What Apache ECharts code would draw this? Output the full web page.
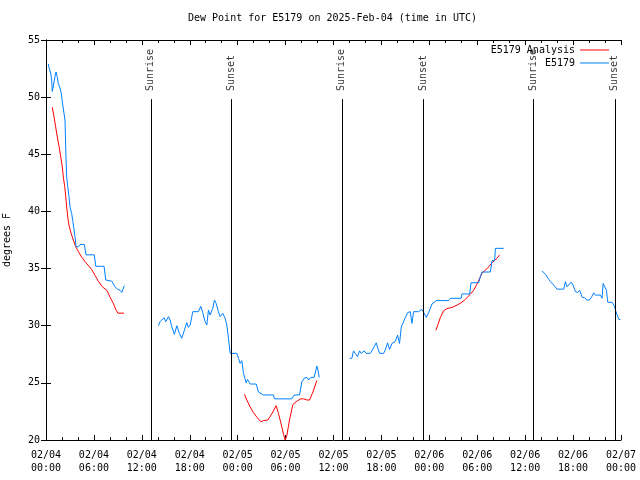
<!DOCTYPE html>
<html>
<head>
<meta charset="utf-8">
<script src="https://cdn.jsdelivr.net/npm/echarts@6/dist/echarts.min.js"></script>
<style>html,body{margin:0;padding:0;background:#fff}#c{width:640px;height:480px}</style>
</head>
<body>
<div id="c"></div>
<script>
// x values are hours since 2025-02-04 00:00 UTC
var xTickLabels = ['02/04\n00:00','02/04\n06:00','02/04\n12:00','02/04\n18:00','02/05\n00:00','02/05\n06:00','02/05\n12:00','02/05\n18:00','02/06\n00:00','02/06\n06:00','02/06\n12:00','02/06\n18:00','02/07\n00:00'];
var sunriseHours = [13.12, 37.05, 61.07];
var sunsetHours = [23.23, 47.28, 71.22];

var obsSeg1 = [[0.29,52.9],[0.41,52.5],[0.59,52.1],[0.71,51.5],[0.79,50.5],[1.0,50.6],[1.13,51.8],[1.25,52.2],[1.33,52.1],[1.4,51.8],[1.54,51.2],[1.75,50.8],[1.92,50.3],[2.04,49.6],[2.26,49.5],[2.38,48.0],[2.5,44.8],[2.59,43.0],[2.72,42.2],[2.88,41.3],[3.0,40.4],[3.22,39.8],[3.35,39.2],[3.51,38.4],[3.63,37.8],[3.76,36.9],[4.05,36.9],[4.26,37.1],[4.8,37.1],[5.01,36.2],[6.05,36.2],[6.23,35.2],[7.27,35.2],[7.48,34.0],[8.23,33.9],[8.65,33.4],[8.93,33.2],[9.27,33.1],[9.49,32.9],[9.69,33.3],[9.81,33.5]];
var obsSeg2 = [[14.07,30.0],[14.29,30.35],[14.5,30.2],[14.79,30.7],[15.0,30.35],[15.33,30.8],[15.54,30.5],[15.75,29.9],[16.08,29.25],[16.38,30.0],[16.7,29.33],[17.0,28.9],[17.2,29.04],[17.63,30.27],[17.83,29.86],[18.05,30.06],[18.38,31.23],[19.09,31.23],[19.38,31.7],[19.63,31.14],[19.92,30.35],[20.14,30.06],[20.34,31.37],[20.55,30.94],[20.88,31.52],[21.09,32.25],[21.3,31.96],[21.59,31.23],[21.8,30.8],[22.14,31.08],[22.43,30.65],[22.64,30.06],[22.85,28.9],[23.06,27.58],[23.9,27.58],[24.1,27.15],[24.31,26.7],[24.52,26.94],[24.73,25.83],[25.06,25.0],[25.23,25.3],[25.56,24.9],[26.32,24.9],[26.6,24.2],[27.23,23.94],[28.48,23.94],[28.61,23.6],[30.78,23.6],[31.08,23.94],[31.74,23.94],[32.04,25.1],[32.33,25.4],[32.67,25.48],[32.87,25.25],[33.17,25.48],[33.58,25.48],[33.92,26.47],[34.05,26.12],[34.21,25.48]];
var obsSeg3 = [[38.01,27.15],[38.3,27.15],[38.51,27.8],[38.72,27.58],[39.01,27.29],[39.26,27.8],[39.47,27.58],[39.85,27.8],[40.06,27.58],[40.6,27.58],[40.81,27.8],[41.02,27.87],[41.35,28.5],[41.56,28.0],[41.77,27.58],[42.27,27.58],[42.48,27.87],[42.77,28.5],[43.02,27.93],[43.32,28.45],[43.73,28.6],[44.02,29.18],[44.27,28.45],[44.49,29.9],[44.7,30.06],[44.99,30.7],[45.28,31.14],[45.61,31.23],[45.82,30.2],[46.03,31.23],[46.65,31.23],[47.08,31.43],[47.28,31.37],[47.62,30.73],[47.91,31.14],[48.33,31.9],[48.87,32.2],[50.41,32.2],[50.63,32.4],[51.97,32.4],[52.09,32.78],[53.05,32.78],[53.22,33.76],[53.47,33.85],[54.18,33.76],[54.39,34.3],[54.6,34.7],[55.64,34.7],[55.85,35.7],[56.18,35.7],[56.27,36.77],[57.31,36.77]];
var obsSeg4 = [[62.12,34.8],[62.32,34.8],[62.53,34.5],[62.74,34.3],[62.95,34.06],[63.16,33.85],[63.37,33.7],[63.57,33.56],[63.78,33.47],[63.99,33.2],[64.83,33.2],[65.04,33.85],[65.25,33.4],[65.45,33.56],[65.75,33.8],[66.0,33.56],[66.29,32.98],[66.58,32.9],[66.83,33.1],[67.13,32.5],[67.42,32.45],[67.76,32.25],[68.05,32.25],[68.3,32.5],[68.59,32.87],[68.8,32.68],[69.42,32.68],[69.63,32.4],[69.76,33.7],[69.92,33.6],[70.18,33.1],[70.34,32.05],[70.89,32.05],[71.18,31.7],[71.3,31.37],[71.52,30.94],[71.72,30.55],[71.93,30.55]];

var anaSeg1 = [[0.79,49.1],[1.0,48.3],[1.21,47.4],[1.42,46.5],[1.63,45.7],[1.84,44.8],[2.04,43.9],[2.17,43.0],[2.34,42.2],[2.47,41.3],[2.59,40.4],[2.72,39.5],[2.88,38.8],[3.13,38.1],[3.42,37.5],[3.72,36.9],[4.05,36.5],[4.47,36.0],[4.89,35.6],[5.39,35.2],[5.73,34.9],[6.14,34.4],[6.55,33.9],[7.06,33.4],[7.61,33.1],[8.02,32.5],[8.4,32.0],[8.75,31.4],[9.0,31.1],[9.77,31.1]];
var anaSeg2 = [[24.85,24.0],[25.15,23.5],[25.56,22.9],[25.98,22.4],[26.4,22.0],[26.9,21.6],[27.23,21.7],[27.78,21.75],[28.28,22.3],[28.82,23.0],[29.11,22.3],[29.41,21.5],[29.74,20.5],[29.95,20.0],[30.16,20.4],[30.49,21.75],[30.91,23.1],[31.41,23.4],[31.91,23.6],[32.25,23.6],[32.67,23.5],[33.0,23.5],[33.42,24.2],[33.92,25.2]];
var anaSeg3 = [[48.83,29.6],[49.08,30.1],[49.37,30.7],[49.79,31.3],[50.21,31.5],[50.84,31.6],[51.46,31.8],[51.97,32.0],[52.51,32.3],[53.05,32.7],[53.55,33.1],[53.97,33.65],[54.3,34.15],[54.6,34.6],[55.23,35.0],[55.85,35.5],[56.48,35.9],[56.8,36.2]];

function joinSegs(segs) {
  var out = [];
  segs.forEach(function (s, i) {
    if (i > 0) out.push([s[0][0] - 0.01, null]);
    s.forEach(function (p) { out.push(p); });
  });
  return out;
}

var FONT = 'DejaVu Sans Mono';
var chart = echarts.init(document.getElementById('c'), null, {renderer: 'canvas'});

var sunLines = [];
sunriseHours.concat(sunsetHours).forEach(function (h) {
  sunLines.push([{coord: [h, 20]}, {coord: [h, 49.83]}]);
});
var sunLabels = [];
sunriseHours.forEach(function (h) { sunLabels.push({value: [h, 50.45], name: 'Sunrise'}); });
sunsetHours.forEach(function (h) { sunLabels.push({value: [h, 50.45], name: 'Sunset'}); });

var axisLine = {show: true, lineStyle: {color: '#000', width: 1}};

chart.setOption({
  animation: false,
  backgroundColor: '#fff',
  textStyle: {fontFamily: FONT},
  title: {
    text: 'Dew Point for E5179 on 2025-Feb-04 (time in UTC)',
    left: 188, top: 13, padding: 0,
    textStyle: {fontFamily: FONT, fontSize: 10, fontWeight: 'normal', color: '#000'}
  },
  legend: {
    orient: 'vertical', right: 26, top: 40, align: 'right',
    itemWidth: 29, itemHeight: 1, itemGap: 3,
    textStyle: {fontFamily: FONT, fontSize: 10, color: '#000'},
    data: [{name: 'E5179 Analysis', icon: 'rect'}, {name: 'E5179', icon: 'rect'}]
  },
  grid: {left: 46, right: 19, top: 40, bottom: 40, containLabel: false, outerBoundsMode: 'none'},
  xAxis: [{
    type: 'value', min: 0, max: 72, interval: 6,
    axisLine: axisLine, splitLine: {show: false},
    axisTick: {show: true, inside: true, length: 5, lineStyle: {color: '#000'}},
    minorTick: {show: true, splitNumber: 3, length: 3, lineStyle: {color: '#000'}},
    axisLabel: {
      show: true, margin: 9, lineHeight: 13, color: '#000', fontFamily: FONT, fontSize: 10,
      showMinLabel: true, showMaxLabel: true,
      formatter: function (v) { return xTickLabels[Math.round(v / 6)]; }
    }
  }, {
    type: 'value', position: 'top', min: 0, max: 72, interval: 6,
    axisLine: axisLine, splitLine: {show: false},
    axisTick: {show: true, inside: true, length: 5, lineStyle: {color: '#000'}},
    minorTick: {show: true, splitNumber: 3, length: 3, lineStyle: {color: '#000'}},
    axisLabel: {show: false}
  }],
  yAxis: [{
    type: 'value', min: 20, max: 55, interval: 5,
    name: 'degrees F', nameLocation: 'middle', nameGap: 34, nameRotate: 90,
    nameTextStyle: {fontFamily: FONT, fontSize: 10, color: '#000'},
    axisLine: axisLine, splitLine: {show: false},
    axisTick: {show: true, inside: true, length: 5, lineStyle: {color: '#000'}},
    axisLabel: {show: true, margin: 6, color: '#000', fontFamily: FONT, fontSize: 10}
  }, {
    type: 'value', position: 'right', min: 20, max: 55, interval: 5,
    axisLine: axisLine, splitLine: {show: false},
    axisTick: {show: true, inside: true, length: 5, lineStyle: {color: '#000'}},
    axisLabel: {show: false}
  }],
  series: [{
    name: 'Sun', type: 'scatter', symbolSize: 1,
    itemStyle: {color: 'rgba(0,0,0,0)'},
    data: sunLabels,
    label: {
      show: true, position: 'inside', rotate: 90, align: 'left', verticalAlign: 'middle',
      offset: [1, 0],
      fontFamily: FONT, fontSize: 10, color: '#000',
      formatter: function (p) { return p.name; }
    },
    markLine: {
      silent: true, symbol: 'none', animation: false,
      label: {show: false},
      lineStyle: {color: '#000', width: 1, type: 'solid'},
      data: sunLines
    }
  }, {
    name: 'E5179 Analysis', type: 'line', showSymbol: false, symbol: 'none',
    connectNulls: false,
    itemStyle: {color: '#ff0000'},
    lineStyle: {color: '#ff0000', width: 1},
    data: joinSegs([anaSeg1, anaSeg2, anaSeg3])
  }, {
    name: 'E5179', type: 'line', showSymbol: false, symbol: 'none',
    connectNulls: false,
    itemStyle: {color: '#0080ff'},
    lineStyle: {color: '#0080ff', width: 1},
    data: joinSegs([obsSeg1, obsSeg2, obsSeg3, obsSeg4])
  }]
});
</script>
</body>
</html>
